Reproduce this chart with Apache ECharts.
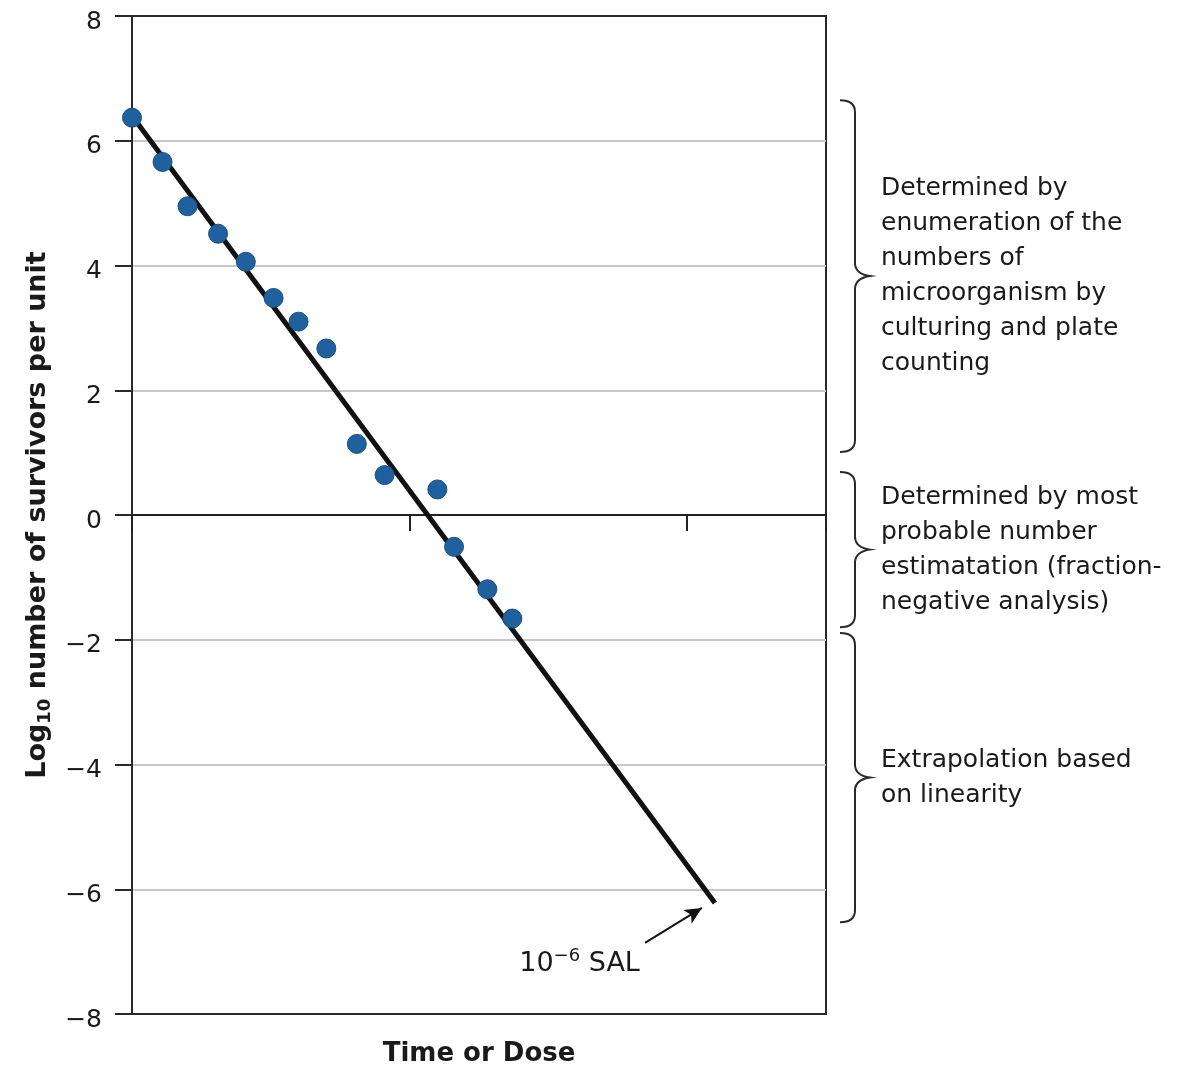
<!DOCTYPE html>
<html><head><meta charset="utf-8">
<script src="https://cdn.jsdelivr.net/npm/echarts@6/dist/echarts.min.js"></script>
<style>html,body{margin:0;padding:0;background:#fff}#c{width:1179px;height:1067px}</style>
</head><body><div id="c"></div>
<script>
// ---- data ----
const survivorsX = [0.00, 0.11, 0.20, 0.31, 0.41, 0.51, 0.60, 0.70, 0.81, 0.91, 1.10, 1.16, 1.28, 1.37];
const survivorsY = [6.37, 5.66, 4.95, 4.51, 4.06, 3.48, 3.10, 2.67, 1.14, 0.64, 0.41, -0.51, -1.19, -1.66];
const fitX = [0.00, 2.10];
const fitY = [6.40, -6.22];
const salArrowX = [1.848, 2.053];
const salArrowY = [-6.86, -6.30];
const braceTop = [6.65, 0.69, -1.89];
const braceBottom = [1.01, -1.80, -6.53];
const braceText = [
  "Determined by\nenumeration of the\nnumbers of\nmicroorganism by\nculturing and plate\ncounting",
  "Determined by most\nprobable number\nestimatation (fraction-\nnegative analysis)",
  "Extrapolation based\non linearity"
];
const xMin = 0, xMax = 2.5, xInterval = 1;
const yMin = -8, yMax = 8, yInterval = 2;

const FONT = "'DejaVu Sans', Verdana, sans-serif";
const TXT = '#1a1a1a';
const chart = echarts.init(document.getElementById('c'), null, {renderer: 'canvas'});

// split line colours: dark at the frame (top/bottom), light grey elsewhere
const nSplit = Math.round((yMax - yMin) / yInterval) + 1;
const splitColors = Array.from({length: nSplit}, (_, i) => (i === 0 || i === nSplit - 1) ? '#2a2a2a' : '#c8c8c8');

const option = {
  animation: false,
  backgroundColor: '#fff',
  grid: {left: 132, right: 353, top: 16, bottom: 53, containLabel: false, outerBoundsMode: 'none',
    show: true, borderColor: '#2a2a2a', borderWidth: 2, backgroundColor: 'transparent'},
  xAxis: [{
    type: 'value', min: xMin, max: xMax, interval: xInterval, position: 'bottom',
    axisLine: {show: true, onZero: true, lineStyle: {color: '#222', width: 2}},
    axisTick: {show: true, length: 16, lineStyle: {color: '#222', width: 2}},
    axisLabel: {show: false}, splitLine: {show: false}
  }, {
    type: 'value', min: xMin, max: xMax, position: 'bottom',
    axisLine: {show: false, onZero: false}, axisTick: {show: false}, axisLabel: {show: false}, splitLine: {show: false},
    name: 'Time or Dose', nameLocation: 'middle', nameGap: 27,
    nameTextStyle: {fontFamily: FONT, fontSize: 26, fontWeight: 'bold', color: TXT}
  }],
  yAxis: {
    type: 'value', min: yMin, max: yMax, interval: yInterval,
    axisLine: {show: true, lineStyle: {color: '#2a2a2a', width: 2}},
    axisTick: {show: true, length: 17, lineStyle: {color: '#2a2a2a', width: 2}},
    axisLabel: {margin: 30,
      formatter: v => '{t|' + (v < 0 ? '\u2212' + Math.abs(v) : String(v)) + '}',
      rich: {t: {fontFamily: FONT, fontSize: 25, color: TXT, padding: [12, 0, 0, 0]}}},
    splitLine: {show: true, lineStyle: {color: splitColors, width: 2}},
    name: '{m|Log}{sub|10}{m| number of survivors per unit}',
    nameLocation: 'middle', nameRotate: 90, nameGap: 72,
    nameTextStyle: {
      rich: {
        m: {fontFamily: FONT, fontSize: 27, fontWeight: 'bold', color: TXT, lineHeight: 33, verticalAlign: 'middle'},
        sub: {fontFamily: FONT, fontSize: 18, fontWeight: 'bold', color: TXT, verticalAlign: 'bottom'}
      }
    }
  },
  series: [{
    type: 'line', xAxisIndex: 0, yAxisIndex: 0,
    data: fitX.map((x, i) => [x, fitY[i]]),
    symbol: 'none', lineStyle: {color: '#111', width: 5}, z: 3,
    markLine: {
      silent: true, symbol: ['none', 'arrow'], symbolSize: [12, 17],
      lineStyle: {color: '#111', width: 2, type: 'solid'},
      label: {
        show: true, position: 'start', distance: [6, 40],
        formatter: '{n|10}{s|\u22126}{n| SAL}',
        rich: {
          n: {fontFamily: FONT, fontSize: 27, color: TXT, lineHeight: 33, verticalAlign: 'middle'},
          s: {fontFamily: FONT, fontSize: 18, color: TXT, verticalAlign: 'top'}
        }
      },
      data: [[{coord: [salArrowX[0], salArrowY[0]]}, {coord: [salArrowX[1], salArrowY[1]]}]]
    }
  }, {
    type: 'scatter', xAxisIndex: 0, yAxisIndex: 0,
    data: survivorsX.map((x, i) => [x, survivorsY[i]]),
    symbolSize: 19, z: 4,
    itemStyle: {color: '#1f609e', borderColor: '#1a4f82', borderWidth: 1, opacity: 1}
  }, {
    type: 'custom', xAxisIndex: 0, yAxisIndex: 0, clip: false, silent: true, z: 5,
    data: braceTop.map((t, i) => [i, t, braceBottom[i]]),
    renderItem: function (params, api) {
      const i = api.value(0);
      const pT = api.coord([xMax, api.value(1)]);
      const pB = api.coord([xMax, api.value(2)]);
      const x0 = pT[0] + 14, xs = x0 + 15, xt = x0 + 30;
      const top = pT[1], bot = pB[1], mid = (top + bot) / 2, r = 12;
      const d = `M${x0} ${top} Q${xs} ${top} ${xs} ${top + r} L${xs} ${mid - r} Q${xs + 1} ${mid - 2} ${xt} ${mid} Q${xs + 1} ${mid + 2} ${xs} ${mid + r} L${xs} ${bot - r} Q${xs} ${bot} ${x0} ${bot}`;
      return {
        type: 'group',
        children: [{
          type: 'path', shape: {pathData: d},
          style: {stroke: '#2a2a2a', lineWidth: 2, fill: 'none'}
        }, {
          type: 'text', x: xt + 11, y: mid,
          style: {text: braceText[i], fontFamily: FONT, fontSize: 25, fill: TXT, lineHeight: 35, align: 'left', verticalAlign: 'middle'}
        }]
      };
    }
  }]
};
chart.setOption(option);
</script>
</body></html>
